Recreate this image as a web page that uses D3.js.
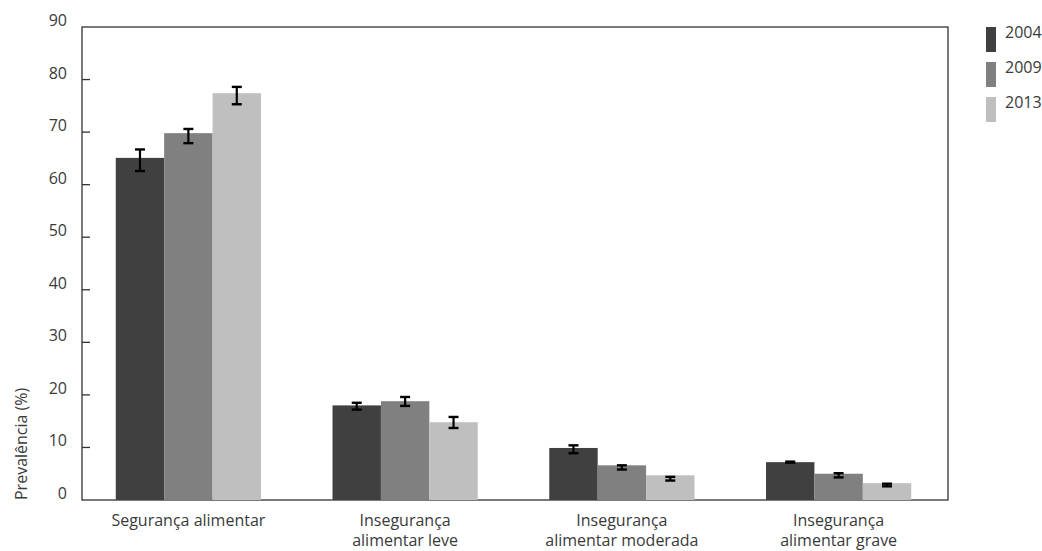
<!DOCTYPE html>
<html>
<head>
<meta charset="utf-8">
<script src="https://cdn.jsdelivr.net/npm/d3@7"></script>
<style>
  body { margin: 0; background: #fff; }
  #chart { width: 1042px; height: 551px; }
  text { font-family: "Open Sans", sans-serif; fill: #3a3a3a; }
</style>
</head>
<body>
<div id="chart"></div>
<script>

// categories and series
const categories = [
    ["Segurança alimentar"],
    ["Insegurança", "alimentar leve"],
    ["Insegurança", "alimentar moderada"],
    ["Insegurança", "alimentar grave"]
];
const years = ["2004", "2009", "2013"];

const values2004 = [65.1, 18.0, 9.9, 7.2];
const values2009 = [69.8, 18.8, 6.6, 5.0];
const values2013 = [77.4, 14.8, 4.7, 3.2];

// error bars (lower / upper)
const lower2004 = [62.6, 17.2, 8.9, 7.1];
const upper2004 = [66.7, 18.5, 10.4, 7.3];
const lower2009 = [67.9, 17.9, 5.8, 4.3];
const upper2009 = [70.6, 19.6, 6.6, 5.1];
const lower2013 = [75.3, 13.7, 3.7, 2.6];
const upper2013 = [78.6, 15.8, 4.4, 3.1];

const yTicks = [10, 20, 30, 40, 50, 60, 70, 80];
const yLabels = [0, 10, 20, 30, 40, 50, 60, 70, 80, 90];

const colors = ["#404040", "#808080", "#bfbfbf"];

const series = [
    {year: years[0], values: values2004, lo: lower2004, hi: upper2004},
    {year: years[1], values: values2009, lo: lower2009, hi: upper2009},
    {year: years[2], values: values2013, lo: lower2013, hi: upper2013}
];

const width = 1042;
const height = 551;
const margin = {top: 27, left: 82, right: 94, bottom: 51};

const svg = d3.select("#chart")
    .append("svg")
    .attr("width", width)
    .attr("height", height);

/*
SCALES
*/
const xScale = d3.scaleBand()
    .domain(d3.range(categories.length))
    .range([margin.left - 2, width - margin.right - 1])
    .paddingInner(0.33)
    .paddingOuter(0.165);

const xInner = d3.scaleBand()
    .domain(years)
    .range([0, xScale.bandwidth()]);

const yScale = d3.scaleLinear()
    .domain([0, 90])
    .range([height - margin.bottom, margin.top]);

const colorScale = d3.scaleOrdinal().domain(years).range(colors);

/*
FRAME + TICKS
*/
svg.append("rect")
    .attr("x", margin.left)
    .attr("y", yScale(90))
    .attr("width", width - margin.right - margin.left)
    .attr("height", yScale(0) - yScale(90))
    .attr("fill", "none")
    .attr("stroke", "#333")
    .attr("stroke-width", 1.3);

svg.selectAll(".tick")
    .data(yTicks)
    .enter()
    .append("line")
        .attr("class", "tick")
        .attr("x1", margin.left)
        .attr("x2", margin.left + 8)
        .attr("y1", function(d) { return yScale(d); })
        .attr("y2", function(d) { return yScale(d); })
        .attr("stroke", "#333")
        .attr("stroke-width", 1.3);

svg.selectAll(".ylabel")
    .data(yLabels)
    .enter()
    .append("text")
        .attr("class", "ylabel")
        .attr("x", 67)
        .attr("y", function(d) { return yScale(d) - 1; })
        .attr("text-anchor", "end")
        .attr("font-size", 16)
        .text(function(d) { return d; });

/*
BARS
*/
const groups = svg.selectAll(".series")
    .data(series)
    .enter()
    .append("g")
        .attr("class", "series");

groups.selectAll("rect")
    .data(function(s) { return s.values.map(function(v, i) { return {year: s.year, i: i, v: v}; }); })
    .enter()
    .append("rect")
        .attr("x", function(d) { return xScale(d.i) + xInner(d.year); })
        .attr("y", function(d) { return yScale(d.v); })
        .attr("width", xInner.bandwidth())
        .attr("height", function(d) { return yScale(0) - yScale(d.v); })
        .attr("fill", function(d) { return colorScale(d.year); });

// error bars
const errs = groups.selectAll(".err")
    .data(function(s) { return s.values.map(function(v, i) { return {year: s.year, i: i, lo: s.lo[i], hi: s.hi[i]}; }); })
    .enter()
    .append("g")
        .attr("class", "err")
        .attr("transform", function(d) { return `translate(${xScale(d.i) + xInner(d.year) + xInner.bandwidth() / 2},0)`; });

errs.append("line")
    .attr("y1", function(d) { return yScale(d.lo); })
    .attr("y2", function(d) { return yScale(d.hi); })
    .attr("stroke", "#000")
    .attr("stroke-width", 2.2);

errs.selectAll(".cap")
    .data(function(d) { return [d.lo, d.hi]; })
    .enter()
    .append("line")
        .attr("class", "cap")
        .attr("x1", -5)
        .attr("x2", 5)
        .attr("y1", function(d) { return yScale(d); })
        .attr("y2", function(d) { return yScale(d); })
        .attr("stroke", "#000")
        .attr("stroke-width", 2.4);

/*
X LABELS
*/
svg.selectAll(".xlabel")
    .data(categories)
    .enter()
    .append("text")
        .attr("class", "xlabel")
        .attr("text-anchor", "middle")
        .attr("font-size", 16)
        .attr("transform", function(d, i) { return `translate(${xScale(i) + xScale.bandwidth() / 2},${height - margin.bottom + 26})`; })
        .selectAll("tspan")
        .data(function(d) { return d; })
        .enter()
        .append("tspan")
            .attr("x", 0)
            .attr("y", function(d, j) { return j * 20; })
            .text(function(d) { return d; });

/*
Y AXIS TITLE
*/
svg.append("text")
    .attr("transform", "rotate(-90)")
    .attr("x", -(height - margin.bottom))
    .attr("y", 27)
    .attr("text-anchor", "start")
    .attr("font-size", 16)
    .text("Prevalência (%)");

/*
LEGEND
*/
const legend = svg.selectAll(".legend")
    .data(years)
    .enter()
    .append("g")
        .attr("class", "legend")
        .attr("transform", function(d, i) { return `translate(986,${27 + i * 35})`; });

legend.append("rect")
    .attr("width", 10)
    .attr("height", 25)
    .attr("fill", function(d) { return colorScale(d); });

legend.append("text")
    .attr("x", 19)
    .attr("y", 11)
    .attr("font-size", 16)
    .text(function(d) { return d; });

</script>
</body>
</html>
